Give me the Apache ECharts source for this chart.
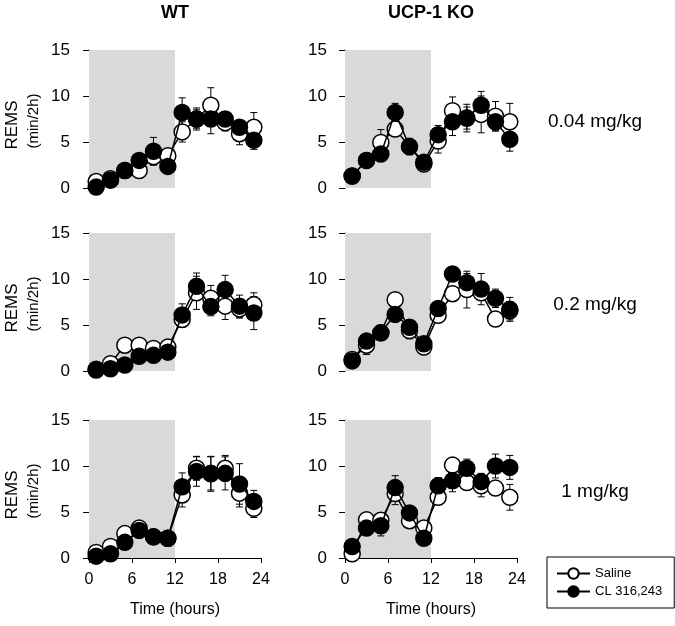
<!DOCTYPE html>
<html>
<head>
<meta charset="utf-8">
<script src="https://cdn.jsdelivr.net/npm/echarts@6/dist/echarts.min.js"></script>
<style>
html, body { margin: 0; padding: 0; background: #fff; }
#chart { width: 675px; height: 626px; }
</style>
</head>
<body>
<div id="chart"></div>
<script>
// time points (middle of each 2h bin)
var hours = [1, 3, 5, 7, 9, 11, 13, 15, 17, 19, 21, 23];
var xTicks = [0, 6, 12, 18, 24];
var yTicks = [0, 5, 10, 15];
var genotypes = ['WT', 'UCP-1 KO'];
var doses = ['0.04 mg/kg', '0.2 mg/kg', '1 mg/kg'];
var seriesNames = ['Saline', 'CL 316,243'];

// WT 0.04 mg/kg
var wt004Sal = [0.7, 1.0, 1.9, 1.9, 3.4, 3.5, 6.1, 7.5, 9.0, 7.1, 5.9, 6.6];
var wt004SalErr = [0.3, 0.3, 0.4, 0.4, 0.9, 0.6, 1.1, 1.0, 1.9, 0.9, 1.2, 1.6];
var wt004Cl = [0.1, 0.85, 1.9, 3.0, 4.0, 2.35, 8.2, 7.5, 7.5, 7.5, 6.6, 5.2];
var wt004ClErr = [0.2, 0.3, 0.5, 0.5, 1.5, 0.5, 1.6, 1.2, 1.6, 0.8, 0.6, 1.0];
// KO 0.04 mg/kg
var ko004Sal = [1.3, 3.0, 4.95, 6.4, 4.5, 2.6, 5.1, 8.4, 7.6, 8.0, 7.8, 7.2];
var ko004SalErr = [0.2, 0.3, 1.4, 0.8, 0.5, 0.4, 1.3, 1.5, 1.5, 2.0, 1.6, 2.0];
var ko004Cl = [1.3, 3.0, 3.7, 8.2, 4.5, 2.8, 5.8, 7.2, 7.6, 9.0, 7.2, 5.3];
var ko004ClErr = [0.2, 0.4, 0.5, 1.0, 0.9, 0.5, 1.0, 1.5, 1.2, 1.5, 1.0, 1.3];
// WT 0.2 mg/kg
var wt02Sal = [0.2, 0.8, 2.8, 2.8, 2.45, 2.6, 5.6, 8.5, 7.9, 7.05, 6.75, 7.2];
var wt02SalErr = [0.2, 0.3, 0.7, 0.4, 0.6, 0.8, 0.6, 1.8, 1.4, 1.45, 1.0, 1.3];
var wt02Cl = [0.1, 0.25, 0.65, 1.6, 1.7, 2.05, 6.1, 9.2, 7.0, 8.85, 7.05, 6.3];
var wt02ClErr = [0.2, 0.2, 0.3, 0.5, 0.5, 0.5, 1.2, 1.45, 1.0, 1.55, 1.2, 1.8];
// KO 0.2 mg/kg
var ko02Sal = [1.25, 2.8, 4.15, 7.75, 4.4, 2.6, 6.05, 8.4, 8.85, 8.5, 5.65, 6.55];
var ko02SalErr = [0.2, 1.0, 0.8, 0.5, 0.9, 0.8, 0.5, 0.8, 2.0, 0.7, 0.8, 1.0];
var ko02Cl = [1.1, 3.25, 4.15, 6.15, 4.75, 2.95, 6.8, 10.55, 9.6, 8.9, 7.9, 6.7];
var ko02ClErr = [0.2, 0.8, 0.8, 0.8, 0.8, 0.5, 0.7, 0.8, 1.0, 1.7, 1.0, 1.3];
// WT 1 mg/kg
var wt1Sal = [0.6, 1.25, 2.65, 3.25, 2.3, 2.15, 6.85, 9.75, 9.2, 9.75, 7.05, 5.4];
var wt1SalErr = [0.3, 0.3, 0.7, 0.5, 0.4, 0.6, 1.3, 1.3, 1.8, 1.4, 1.5, 1.0];
var wt1Cl = [0.2, 0.45, 1.7, 3.0, 2.3, 2.15, 7.75, 9.4, 9.15, 9.2, 8.05, 6.15];
var wt1ClErr = [0.2, 0.3, 0.6, 0.8, 0.4, 0.7, 1.5, 1.6, 1.9, 1.8, 2.2, 1.2];
// KO 1 mg/kg
var ko1Sal = [0.45, 4.15, 4.1, 7.0, 4.05, 3.25, 6.6, 10.1, 8.2, 7.85, 7.6, 6.6];
var ko1SalErr = [0.2, 0.7, 0.8, 1.2, 0.7, 0.5, 0.7, 0.8, 0.6, 1.2, 0.8, 1.4];
var ko1Cl = [1.25, 3.25, 3.5, 7.65, 4.9, 2.15, 7.85, 8.4, 9.75, 8.3, 10.0, 9.85];
var ko1ClErr = [0.4, 0.5, 1.1, 1.3, 0.6, 0.5, 0.9, 1.2, 1.0, 0.9, 1.3, 1.3];

// panels in row order: [WT, KO] for each dose
var panels = [
	[wt004Sal, wt004SalErr, wt004Cl, wt004ClErr],
	[ko004Sal, ko004SalErr, ko004Cl, ko004ClErr],
	[wt02Sal, wt02SalErr, wt02Cl, wt02ClErr],
	[ko02Sal, ko02SalErr, ko02Cl, ko02ClErr],
	[wt1Sal, wt1SalErr, wt1Cl, wt1ClErr],
	[ko1Sal, ko1SalErr, ko1Cl, ko1ClErr]
];

var font = "'Liberation Sans', Arial, sans-serif";
var colLeft = [89, 345];
var rowTop = [50, 233, 420];
var plotW = 172, plotH = 138;

function errRender(params, api) {
	var x = api.value(0), m = api.value(1), e = api.value(2);
	var hi = api.coord([x, m + e]);
	var lo = api.coord([x, Math.max(0, m - e)]);
	var cw = 3.5;
	var st = { stroke: '#000', lineWidth: 1 };
	return {
		type: 'group',
		children: [
			{ type: 'line', shape: { x1: hi[0], y1: hi[1], x2: lo[0], y2: lo[1] }, style: st },
			{ type: 'line', shape: { x1: hi[0] - cw, y1: hi[1], x2: hi[0] + cw, y2: hi[1] }, style: st },
			{ type: 'line', shape: { x1: lo[0] - cw, y1: lo[1], x2: lo[0] + cw, y2: lo[1] }, style: st }
		]
	};
}

function pairs(vals, errs) {
	var out = [];
	for (var i = 0; i < hours.length; i++) {
		out.push(errs ? [hours[i], vals[i], errs[i]] : [hours[i], vals[i]]);
	}
	return out;
}

var grids = [], xAxes = [], yAxes = [], series = [];
for (var p = 0; p < panels.length; p++) {
	var row = Math.floor(p / 2), col = p % 2;
	var bottomRow = row == 2;
	grids.push({ left: colLeft[col], top: rowTop[row], width: plotW, height: plotH });
	xAxes.push({
		gridIndex: p, type: 'value', min: 0, max: 24, interval: 6,
		show: bottomRow,
		name: bottomRow ? 'Time (hours)' : '',
		nameLocation: 'middle', nameGap: 42,
		nameTextStyle: { fontFamily: font, fontSize: 16, color: '#000' },
		offset: 2,
		axisLine: { show: true, lineStyle: { color: '#000', width: 1 } },
		axisTick: { show: true, length: 5, lineStyle: { color: '#000' } },
		axisLabel: { fontFamily: font, fontSize: 16, color: '#000', margin: 12 },
		splitLine: { show: false }
	});
	yAxes.push({
		gridIndex: p, type: 'value', min: 0, max: 15, interval: 5,
		offset: col == 0 ? 6 : 5,
		axisLine: { show: true, lineStyle: { color: '#000', width: 1 } },
		axisTick: { show: true, length: 6, lineStyle: { color: '#000' } },
		axisLabel: { fontFamily: font, fontSize: 17, color: '#000', margin: 13 },
		splitLine: { show: false }
	});
	var d = panels[p];
	// grey shading for the dark phase
	series.push({
		type: 'line', xAxisIndex: p, yAxisIndex: p, data: [], silent: true, z: 0,
		markArea: {
			silent: true,
			itemStyle: { color: '#d9d9d9' },
			data: [[{ xAxis: 0, yAxis: 0 }, { xAxis: 12, yAxis: 15 }]]
		}
	});
	// error bars
	series.push({ type: 'custom', xAxisIndex: p, yAxisIndex: p, z: 1, renderItem: errRender,
		encode: { x: 0, y: 1 }, data: pairs(d[0], d[1]) });
	series.push({ type: 'custom', xAxisIndex: p, yAxisIndex: p, z: 1, renderItem: errRender,
		encode: { x: 0, y: 1 }, data: pairs(d[2], d[3]) });
	series.push({
		name: seriesNames[0], type: 'line', xAxisIndex: p, yAxisIndex: p, z: 3,
		data: pairs(d[0]), symbol: 'circle', symbolSize: 16,
		lineStyle: { color: '#000', width: 1.5 },
		itemStyle: { color: '#fff', borderColor: '#000', borderWidth: 1.5 }
	});
	series.push({
		name: seriesNames[1], type: 'line', xAxisIndex: p, yAxisIndex: p, z: 4,
		data: pairs(d[2]), symbol: 'circle', symbolSize: 16,
		lineStyle: { color: '#000', width: 1.5 },
		itemStyle: { color: '#000', borderColor: '#000', borderWidth: 1.5 }
	});
}

var graphics = [];
// column titles
for (var c = 0; c < 2; c++) {
	graphics.push({ type: 'text', x: colLeft[c] + plotW / 2, y: 13,
		style: { text: genotypes[c], fontFamily: "'Liberation Sans Narrow', " + font, fontWeight: 'bold',
			fontSize: 18, fill: '#000', textAlign: 'center', textVerticalAlign: 'middle' } });
}
// dose labels and y-axis titles
for (var r = 0; r < 3; r++) {
	var cy = rowTop[r] + plotH / 2;
	graphics.push({ type: 'text', x: 595, y: cy + 3,
		style: { text: doses[r], fontFamily: font, fontSize: 19, fill: '#000', textAlign: 'center', textVerticalAlign: 'middle' } });
	graphics.push({ type: 'text', x: 12, y: cy + 6, rotation: Math.PI / 2,
		style: { text: 'REMS', fontFamily: font, fontSize: 17, fill: '#000', textAlign: 'center', textVerticalAlign: 'middle' } });
	graphics.push({ type: 'text', x: 34, y: cy + 2, rotation: Math.PI / 2,
		style: { text: '(min/2h)', fontFamily: font, fontSize: 15, fill: '#000', textAlign: 'center', textVerticalAlign: 'middle' } });
}

var chart = echarts.init(document.getElementById('chart'));
var option = {
	animation: false,
	backgroundColor: '#fff',
	grid: grids,
	xAxis: xAxes,
	yAxis: yAxes,
	legend: {
		data: seriesNames,
		orient: 'vertical',
		left: 547, top: 557,
		padding: [10, 12, 10, 9],
		itemGap: 5,
		itemWidth: 33, itemHeight: 13,
		borderColor: '#000', borderWidth: 1,
		textStyle: { fontFamily: font, fontSize: 13, color: '#000' }
	},
	graphic: graphics,
	series: series
};
chart.setOption(option);
</script>
</body>
</html>
